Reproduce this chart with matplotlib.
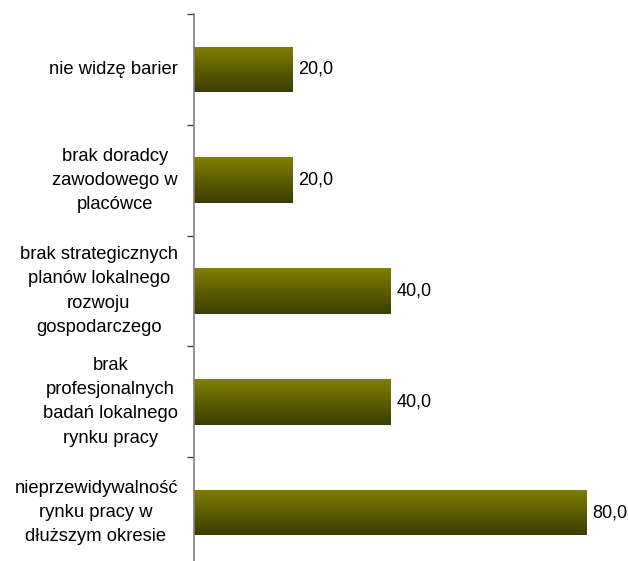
import numpy as np
import matplotlib.pyplot as plt
from matplotlib.colors import LinearSegmentedColormap

plt.rcParams['font.family'] = ['Liberation Sans', 'DejaVu Sans']

categories = [
    "nie widzę barier",
    "brak doradcy\nzawodowego w\nplacówce",
    "brak strategicznych\nplanów lokalnego\nrozwoju\ngospodarczego",
    "brak\nprofesjonalnych\nbadań lokalnego\nrynku pracy",
    "nieprzewidywalność\nrynku pracy w\ndłuższym okresie",
]
values = [20.0, 20.0, 40.0, 40.0, 80.0]

fig = plt.figure(figsize=(6.28, 5.61), dpi=100)
ax = fig.add_axes([194 / 628, -7 / 561, 1 - 194 / 628, 554 / 561])

y = np.arange(len(categories))
bars = ax.barh(y, values, height=0.41, color='none', edgecolor='none')

# vertical olive gradient inside each bar
cmap = LinearSegmentedColormap.from_list('olive', ['#3c3c00', '#808000'])
grad = np.linspace(0, 1, 256).reshape(-1, 1)
for b in bars:
    x0, y0 = b.get_x(), b.get_y()
    w, h = b.get_width(), b.get_height()
    im = ax.imshow(grad, cmap=cmap, aspect='auto', origin='lower',
                   extent=[x0, x0 + w, y0 + h, y0], zorder=2)
    im.set_clip_path(b)

for yi, v in zip(y, values):
    ax.text(v + 1.2, yi, f"{v:.1f}".replace('.', ','), va='center', ha='left',
            fontsize=13, color='black')

ax.set_xlim(0, 88.4)
ax.set_ylim(len(categories) - 0.5, -0.5)

# ticks on category boundaries, Excel style
ax.set_yticks(np.arange(len(categories)) - 0.5)
ax.set_yticklabels([''] * len(categories))
ax.tick_params(axis='y', length=5, color='#404040', width=1)
for yi, lab in zip(y, categories):
    ax.text(-3.3, yi, lab, ha='right', va='center', multialignment='center',
            fontsize=13.2, linespacing=1.55, transform=ax.transData)

ax.set_xticks([])
for s in ['top', 'right', 'bottom']:
    ax.spines[s].set_visible(False)
ax.spines['left'].set_color('#808080')
ax.spines['left'].set_linewidth(1.2)

fig.savefig('out.png', dpi=100)
